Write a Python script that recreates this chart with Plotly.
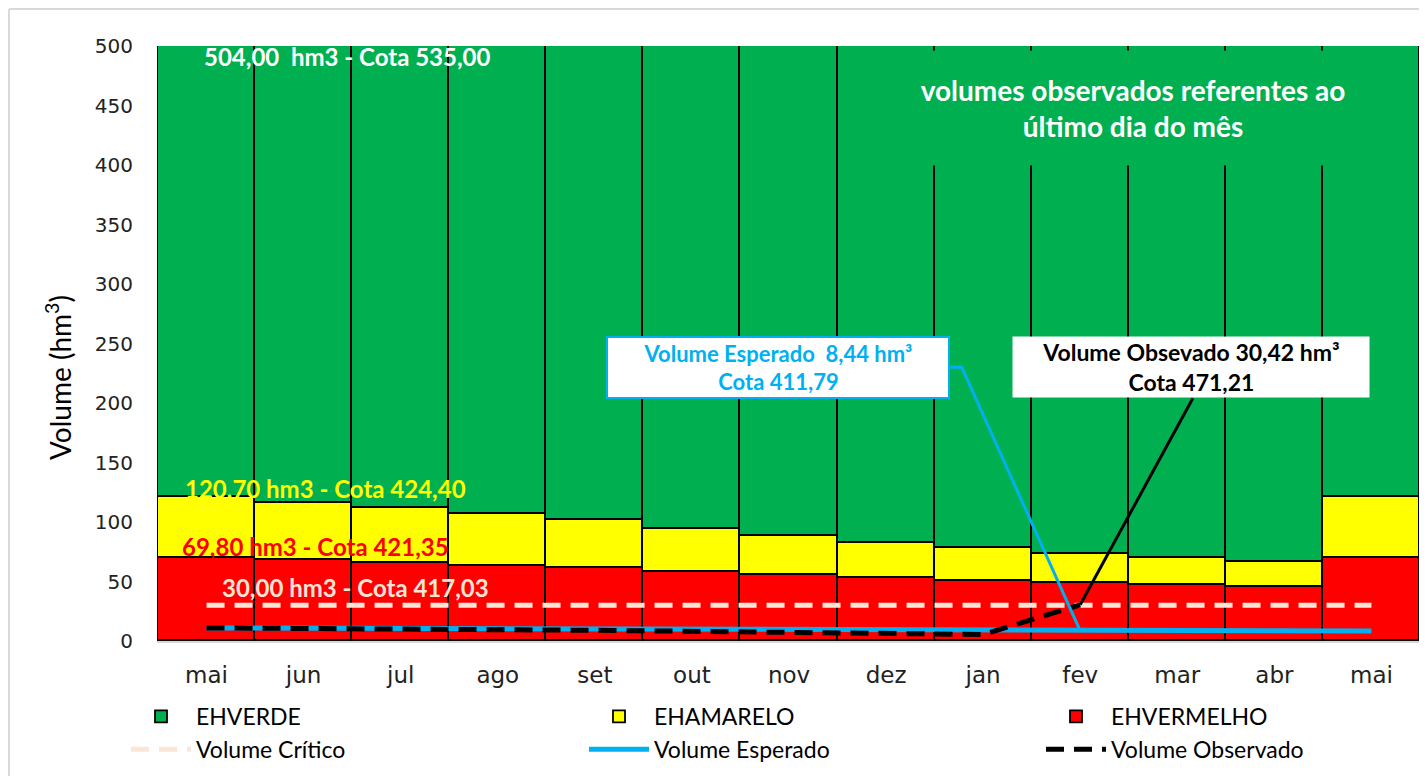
import plotly.graph_objects as go

months = ["mai", "jun", "jul", "ago", "set", "out", "nov", "dez", "jan", "fev", "mar", "abr", "mai"]
red_level = [69.8, 67.8, 65.8, 63.0, 61.3, 58.0, 55.5, 53.0, 50.4, 48.7, 47.0, 45.4, 69.8]
yellow_level = [120.7, 115.6, 111.8, 106.7, 101.7, 94.1, 88.2, 82.0, 78.0, 73.1, 69.7, 66.4, 120.7]
green_level = [504.0] * 13
critical = [30.0] * 13
expected = [11.0, 10.8, 10.5, 10.2, 10.0, 9.8, 9.5, 9.2, 9.0, 8.44, 8.44, 8.44, 8.44]
observed = [11.0, 10.8, 10.2, 9.5, 9.0, 8.3, 7.5, 6.6, 5.5, 30.42, None, None, None]

x = list(range(len(months)))
red_seg = red_level
yellow_seg = [y - r for y, r in zip(yellow_level, red_level)]
green_seg = [g - y for g, y in zip(green_level, yellow_level)]

GREEN = "#00B050"
YELLOW = "#FFFF00"
RED = "#FF0000"
BLUE = "#00B0F0"
PEACH = "#FBE5D6"
FONT = "Lato"

fig = go.Figure()
bar_line = dict(color="black", width=1.8)
fig.add_trace(go.Bar(x=x, y=red_seg, name="EHVERMELHO", marker=dict(color=RED, line=bar_line),
                     legend="legend3", legendgroup="r", legendrank=1))
fig.add_trace(go.Bar(x=x, y=yellow_seg, name="EHAMARELO", marker=dict(color=YELLOW, line=bar_line),
                     legend="legend2", legendgroup="y", legendrank=1))
fig.add_trace(go.Bar(x=x, y=green_seg, name="EHVERDE", marker=dict(color=GREEN, line=bar_line),
                     legend="legend", legendgroup="g", legendrank=1))
fig.add_trace(go.Scatter(x=x, y=critical, name="Volume Crítico", mode="lines",
                         line=dict(color=PEACH, width=5, dash="18px,10px"),
                         legend="legend", legendgroup="c", legendrank=2))
fig.add_trace(go.Scatter(x=x, y=expected, name="Volume Esperado", mode="lines",
                         line=dict(color=BLUE, width=5),
                         legend="legend2", legendgroup="e", legendrank=2))
fig.add_trace(go.Scatter(x=x, y=observed, name="Volume Observado", mode="lines",
                         line=dict(color="black", width=5, dash="18px,10px"),
                         legend="legend3", legendgroup="o", legendrank=2, connectgaps=False))

# leader lines
fev_i = 9
fig.add_shape(type="path", xref="x", yref="y",
              path=f"M 7.66,230 L 7.78,230 L {fev_i},{expected[fev_i]}",
              line=dict(color=BLUE, width=3), layer="above")
fig.add_shape(type="line", xref="x", yref="y",
              x0=10.16, y0=204, x1=fev_i, y1=observed[fev_i],
              line=dict(color="black", width=3), layer="above")

# page body has an 8px margin: figure is drawn at screen offset (8, 8)
OFF = 8
W, H = 1427 - OFF, 776 - OFF
P_L, P_R, P_T, P_B = 158, 1420, 46, 641          # plot area in screen pixels
P_W, P_H = P_R - P_L, P_B - P_T
def px2x(p): return (p - P_L) / P_W
def py2y(p): return (P_B - p) / P_H

annos = []
def txt(text, px, py, color, size=20, bold=True, **kw):
    annos.append(dict(text=text, x=px2x(px), y=py2y(py), xref="paper", yref="paper", showarrow=False,
                      xanchor="center", yanchor="middle",
                      font=dict(family=FONT, size=size, color=color, weight="bold" if bold else "normal"), **kw))

txt("504,00  hm3 - Cota 535,00", 347, 56, "white", size=24)
txt("120,70 hm3 - Cota 424,40", 325, 488, YELLOW, size=24)
txt("69,80 hm3 - Cota 421,35", 315, 546, RED, size=24)
txt("30,00 hm3 - Cota 417,03", 355, 587, PEACH, size=24)
txt("volumes observados referentes ao<br>último dia do mês", 1133, 108, "white", size=28,
    bgcolor=GREEN, width=490, height=112)
txt("Volume Esperado  8,44 hm³<br>Cota 411,79", 778, 367, BLUE, size=22,
    bgcolor="white", bordercolor=BLUE, borderwidth=2, width=338, height=57)
txt("Volume Obsevado 30,42 hm³<br>Cota 471,21", 1191, 367, "black", size=23,
    bgcolor="white", width=354, height=58)
txt("Volume (hm<sup>3</sup>)", 58, 378, "black", size=28, bold=False, textangle=-90)

leg_common = dict(orientation="v", xanchor="left", yanchor="top", y=py2y(695),
                  traceorder="grouped", tracegroupgap=0, itemwidth=60,
                  font=dict(family=FONT, size=23, color="black"), bgcolor="rgba(0,0,0,0)")

fig.update_layout(
    width=W, height=H,
    margin=dict(l=P_L - OFF, r=W - (P_R - OFF), t=P_T - OFF, b=H - (P_B - OFF), autoexpand=False),
    paper_bgcolor="white", plot_bgcolor="white",
    barmode="stack", bargap=0,
    annotations=annos,
    showlegend=True,
    legend=dict(x=px2x(126), **leg_common),
    legend2=dict(x=px2x(584), **leg_common),
    legend3=dict(x=px2x(1041), **leg_common),
    shapes=list(fig.layout.shapes) + [
        dict(type="line", xref="paper", yref="paper", x0=px2x(9), x1=px2x(9), y0=py2y(780), y1=py2y(9),
             line=dict(color="#D9D9D9", width=2)),
        dict(type="line", xref="paper", yref="paper", x0=px2x(9), x1=px2x(1422), y0=py2y(9), y1=py2y(9),
             line=dict(color="#D9D9D9", width=2)),
    ],
)
fig.update_xaxes(range=[-0.5, 12.5], tickvals=x, ticktext=months, showgrid=False, zeroline=False,
                 showline=True, linecolor="#D9D9D9", linewidth=2, ticks="",
                 tickfont=dict(family="DejaVu Sans", size=23, color="#222"), ticklabelstandoff=12)
fig.update_yaxes(range=[0, 500], tickvals=list(range(0, 501, 50)), showgrid=False, zeroline=False,
                 showline=True, linecolor="black", linewidth=1, ticks="",
                 tickfont=dict(family="DejaVu Sans", size=20, color="#222"), ticklabelstandoff=20)

fig.write_html("out.html")
